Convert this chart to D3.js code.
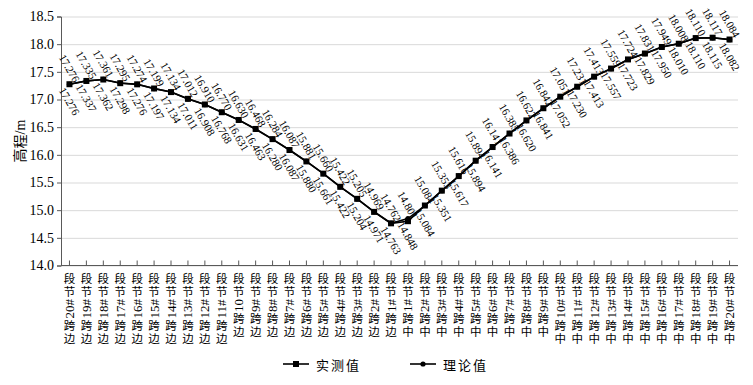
<!DOCTYPE html>
<html>
<head>
<meta charset="utf-8">
<script src="https://cdn.jsdelivr.net/npm/d3@7"></script>
<style>
  body { margin: 0; background: #fff; }
  svg text { font-family: "Liberation Serif", "Noto Sans CJK SC", serif; fill: #000; }
</style>
</head>
<body>
<svg id="chart" width="753" height="385"></svg>
<script>
// categories along the bridge, left to right
const categories = [
    "边跨20#节段", "边跨19#节段", "边跨18#节段", "边跨17#节段", "边跨16#节段",
    "边跨15#节段", "边跨14#节段", "边跨13#节段", "边跨12#节段", "边跨11#节段",
    "边跨10节段", "边跨9#节段", "边跨8#节段", "边跨7#节段", "边跨6#节段",
    "边跨5#节段", "边跨4#节段", "边跨3#节段", "边跨2#节段", "边跨1#节段",
    "中跨1#节段", "中跨2#节段", "中跨3#节段", "中跨4#节段", "中跨5#节段",
    "中跨6#节段", "中跨7#节段", "中跨8#节段", "中跨9#节段", "中跨10#节段",
    "中跨11#节段", "中跨12#节段", "中跨13#节段", "中跨14#节段", "中跨15#节段",
    "中跨16#节段", "中跨17#节段", "中跨18#节段", "中跨19#节段", "中跨20#节段"
];

const measured = [
    17.276, 17.335, 17.361, 17.295, 17.274, 17.199, 17.134, 17.012, 16.910, 16.770,
    16.630, 16.468, 16.284, 16.087, 15.881, 15.660, 15.422, 15.205, 14.969, 14.762,
    14.801, 15.084, 15.353, 15.616, 15.894, 16.141, 16.385, 16.622, 16.842, 17.051,
    17.231, 17.413, 17.559, 17.724, 17.831, 17.949, 18.008, 18.110, 18.117, 18.084
];

const theory = [
    17.276, 17.337, 17.362, 17.298, 17.276, 17.197, 17.134, 17.011, 16.908, 16.768,
    16.631, 16.463, 16.280, 16.087, 15.880, 15.661, 15.422, 15.204, 14.971, 14.763,
    14.848, 15.084, 15.351, 15.617, 15.894, 16.141, 16.386, 16.620, 16.841, 17.052,
    17.230, 17.413, 17.557, 17.723, 17.829, 17.950, 18.010, 18.110, 18.115, 18.082
];

const yTicks = [14.0, 14.5, 15.0, 15.5, 16.0, 16.5, 17.0, 17.5, 18.0, 18.5];
const seriesNames = ["实测值", "理论值"];

const svg = d3.select("#chart");
const margin = {top: 16.5, right: 15, bottom: 119.5, left: 61};
const W = 753, H = 385;

let x = d3.scaleBand().domain(categories).range([margin.left, W - margin.right]);
let y = d3.scaleLinear().domain([14, 18.5]).range([H - margin.bottom, margin.top]);
let cx = d => x(d) + x.bandwidth() / 2;

// grid lines
svg.append("g")
    .attr("transform", "translate(" + margin.left + ",0)")
    .call(d3.axisLeft(y).tickValues(yTicks).tickSize(-(W - margin.right - margin.left)).tickFormat(""))
    .call(g => g.select(".domain").remove())
    .selectAll("line").attr("stroke", "#d9d9d9").attr("stroke-width", 1);

// y axis
let yAxis = svg.append("g")
    .attr("transform", "translate(" + margin.left + ",0)")
    .call(d3.axisLeft(y).tickValues(yTicks).tickSize(4).tickPadding(3).tickFormat(d3.format(".1f")));
yAxis.select(".domain").attr("stroke", "#595959");
yAxis.selectAll("line").attr("stroke", "#595959");
yAxis.selectAll("text").attr("font-size", "14px").style("font-family", "'Liberation Serif', serif");

svg.append("text")
    .attr("transform", "translate(20," + ((margin.top + H - margin.bottom) / 2) + ") rotate(-90)")
    .attr("text-anchor", "middle")
    .attr("dominant-baseline", "central")
    .attr("font-size", "14px")
    .text("高程/m");

// x axis, ticks pointing inwards
let xAxis = svg.append("g")
    .attr("transform", "translate(0," + (H - margin.bottom) + ")")
    .call(d3.axisBottom(x).tickSize(-5).tickFormat(""));
xAxis.select(".domain").attr("stroke", "#595959").attr("d", "M" + margin.left + ",0H" + (W - margin.right));
xAxis.selectAll("line").attr("stroke", "#595959");

// vertical category labels: CJK upright, numbers turned, read bottom to top
const labelTop = H - margin.bottom + 7;
const pitch = 13;
const cjkSize = 11.5;
const digitSize = 13;
categories.forEach(function(c){
    let g = svg.append("g").attr("class", "xlabel");
    let segs = c.match(/[0-9#]+|./g).reverse();
    let cur = labelTop;
    segs.forEach(function(s){
        if (/[0-9#]/.test(s)) {
            // times digits and # are half an em wide
            let len = s.length * digitSize * 0.5;
            g.append("text")
                .attr("font-size", digitSize + "px")
                .attr("dominant-baseline", "central")
                .style("font-family", "'Liberation Serif', serif")
                .attr("transform", "translate(" + cx(c) + "," + (cur + len + 0.5) + ") rotate(-90)")
                .text(s);
            cur += len + 1.5;
        } else {
            g.append("text")
                .attr("x", cx(c))
                .attr("y", cur)
                .attr("font-size", cjkSize + "px")
                .style("writing-mode", "vertical-rl")
                .style("font-family", "'Noto Sans CJK SC', sans-serif")
                .text(s);
            cur += pitch;
        }
    });
});

// lines
let line = d3.line().x((d, i) => cx(categories[i])).y(d => y(d));

svg.append("path").datum(theory)
    .attr("d", line).attr("fill", "none").attr("stroke", "#000").attr("stroke-width", 1.6);
svg.append("path").datum(measured)
    .attr("d", line).attr("fill", "none").attr("stroke", "#000").attr("stroke-width", 1.6);

svg.append("g").selectAll("circle").data(theory).join("circle")
    .attr("cx", (d, i) => cx(categories[i]))
    .attr("cy", d => y(d))
    .attr("r", 2.6)
    .attr("fill", "#000");

svg.append("g").selectAll("rect").data(measured).join("rect")
    .attr("x", (d, i) => cx(categories[i]) - 3)
    .attr("y", d => y(d) - 3)
    .attr("width", 6)
    .attr("height", 6)
    .attr("fill", "#000");

// data labels, rotated
function addLabels(data, offset) {
    svg.append("g").selectAll("text").data(data).join("text")
        .attr("transform", (d, i) => "translate(" + cx(categories[i]) + "," + (y(d) + offset) + ") rotate(60)")
        .attr("text-anchor", "middle")
        .attr("dominant-baseline", "central")
        .attr("font-size", "11px")
        .text(d => d3.format(".3f")(d));
}
addLabels(measured, -16);
addLabels(theory, 17);

// legend
const legendY = 364;
const legend = [{name: seriesNames[0], x: 283, shape: "rect"}, {name: seriesNames[1], x: 410, shape: "circle"}];
legend.forEach(function(l){
    svg.append("line")
        .attr("x1", l.x).attr("x2", l.x + 26)
        .attr("y1", legendY).attr("y2", legendY)
        .attr("stroke", "#000").attr("stroke-width", 1.6);
    if (l.shape === "rect") {
        svg.append("rect").attr("x", l.x + 10).attr("y", legendY - 3).attr("width", 6).attr("height", 6).attr("fill", "#000");
    } else {
        svg.append("circle").attr("cx", l.x + 13).attr("cy", legendY).attr("r", 2.6).attr("fill", "#000");
    }
    svg.append("text")
        .attr("x", l.x + 33).attr("y", legendY)
        .attr("dominant-baseline", "central")
        .attr("font-size", "13px")
        .style("font-family", "'Noto Sans CJK SC', sans-serif")
        .style("letter-spacing", "2px")
        .text(l.name);
});
</script>
</body>
</html>
